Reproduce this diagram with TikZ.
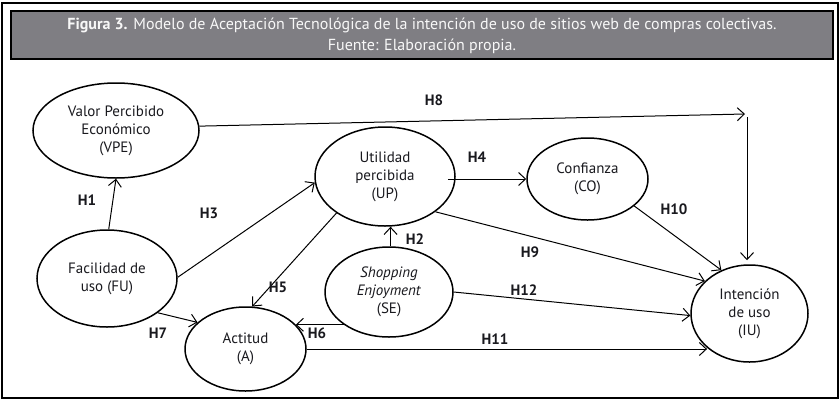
\documentclass[tikz,border=0pt]{standalone}
\usepackage{fontspec}
\setmainfont{PT Sans}
\usetikzlibrary{arrows.meta,shapes.geometric,calc}
\definecolor{titlegray}{RGB}{127,126,131}
\definecolor{titletext}{RGB}{248,248,248}
\definecolor{inkc}{RGB}{25,25,30}
\begin{document}
\begin{tikzpicture}[x=1pt,y=-1pt,
  latent/.style={draw=black,line width=1.5pt,ellipse,inner sep=0pt,align=center,
    text=inkc,font=\fontsize{15}{18}\selectfont},
  conn/.style={draw=black,line width=1pt,-{Straight Barb[length=7pt,width=13pt,line width=1pt]}},
  hlab/.style={font=\fontsize{15}{18}\selectfont\bfseries,text=inkc,inner sep=0pt}]
\useasboundingbox (0,0) rectangle (840,402);
\fill[white] (0,0) rectangle (840,402);
% outer frame
\draw[line width=2pt] (2,2.5) rectangle (837.5,398);
% title box
\node[draw=black,line width=2pt,fill=titlegray,minimum width=822pt,minimum height=48pt,
  inner sep=0pt] (title) at (422,35) {};
\node[text=titletext,align=center,font=\fontsize{16}{21}\selectfont,inner sep=0pt] (titletxt) at (422,36)
  {\textbf{Figura 3.} Modelo de Aceptación Tecnológica de la intención de uso de sitios web de compras colectivas.\\Fuente: Elaboración propia.};
% constructs
\node[latent,minimum width=166pt,minimum height=95pt] (VPE) at (116,130.5) {Valor Percibido\\Económico\\(VPE)};
\node[latent,minimum width=140pt,minimum height=99pt] (UP) at (385,176.5) {Utilidad\\percibida\\(UP)};
\node[latent,minimum width=121pt,minimum height=82pt] (CO) at (587.5,179) {Confianza\\(CO)};
\node[latent,minimum width=140pt,minimum height=97pt] (FU) at (107,278.5) {Facilidad de\\uso (FU)};
\node[latent,minimum width=121pt,minimum height=84pt] (A) at (245.5,349) {Actitud\\(A)};
\node[latent,minimum width=128pt,minimum height=90pt] (SE) at (389,292) {\textit{Shopping}\\\textit{Enjoyment}\\(SE)};
\node[latent,minimum width=117pt,minimum height=97pt] (IU) at (749.5,313.5) {Intención\\de uso\\(IU)};
% free ends of H8
\coordinate (h8e) at (745,114);
\coordinate (h8v) at (747,117);
% connectors
\draw[conn] (VPE.3) -- (h8e);
\draw[conn,shorten >=4pt] (h8v) -- (h8v |- IU.north);
\draw[conn] (FU.88) -- (VPE.south);
\draw[conn] (FU.1) -- (UP.185);
\draw[conn] ([xshift=-8pt]UP.east |- CO.west) -- (CO.west);
\draw[conn] (UP.217) -- (A.81);
\draw[conn] (SE.88) -- (SE.88 |- UP.south);
\draw[conn] (SE.216) -- (SE.216 -| A.26);
\draw[conn] (FU.-34) -- (A.151);
\draw[conn] (UP.-35) -- (IU.144);
\draw[conn] (CO.-30) -- (IU.123);
\draw[conn] (SE.east) -- (IU.182);
\draw[conn] (A.east) -- (A.east -| IU.219);
% labels
\node[hlab] (l8) at (434,100) {H8};
\node[hlab] (l1) at (87,200) {H1};
\node[hlab] (l3) at (209,213) {H3};
\node[hlab] (l4) at (477,157) {H4};
\node[hlab] (l10) at (674,209) {H10};
\node[hlab] (l2) at (415,239) {H2};
\node[hlab] (l5) at (278,287) {H5};
\node[hlab] (l7) at (158,333) {H7};
\node[hlab] (l6) at (317,333) {H6};
\node[hlab] (l9) at (530,252) {H9};
\node[hlab] (l12) at (524,290) {H12};
\node[hlab] (l11) at (495,339) {H11};
\end{tikzpicture}
\end{document}
